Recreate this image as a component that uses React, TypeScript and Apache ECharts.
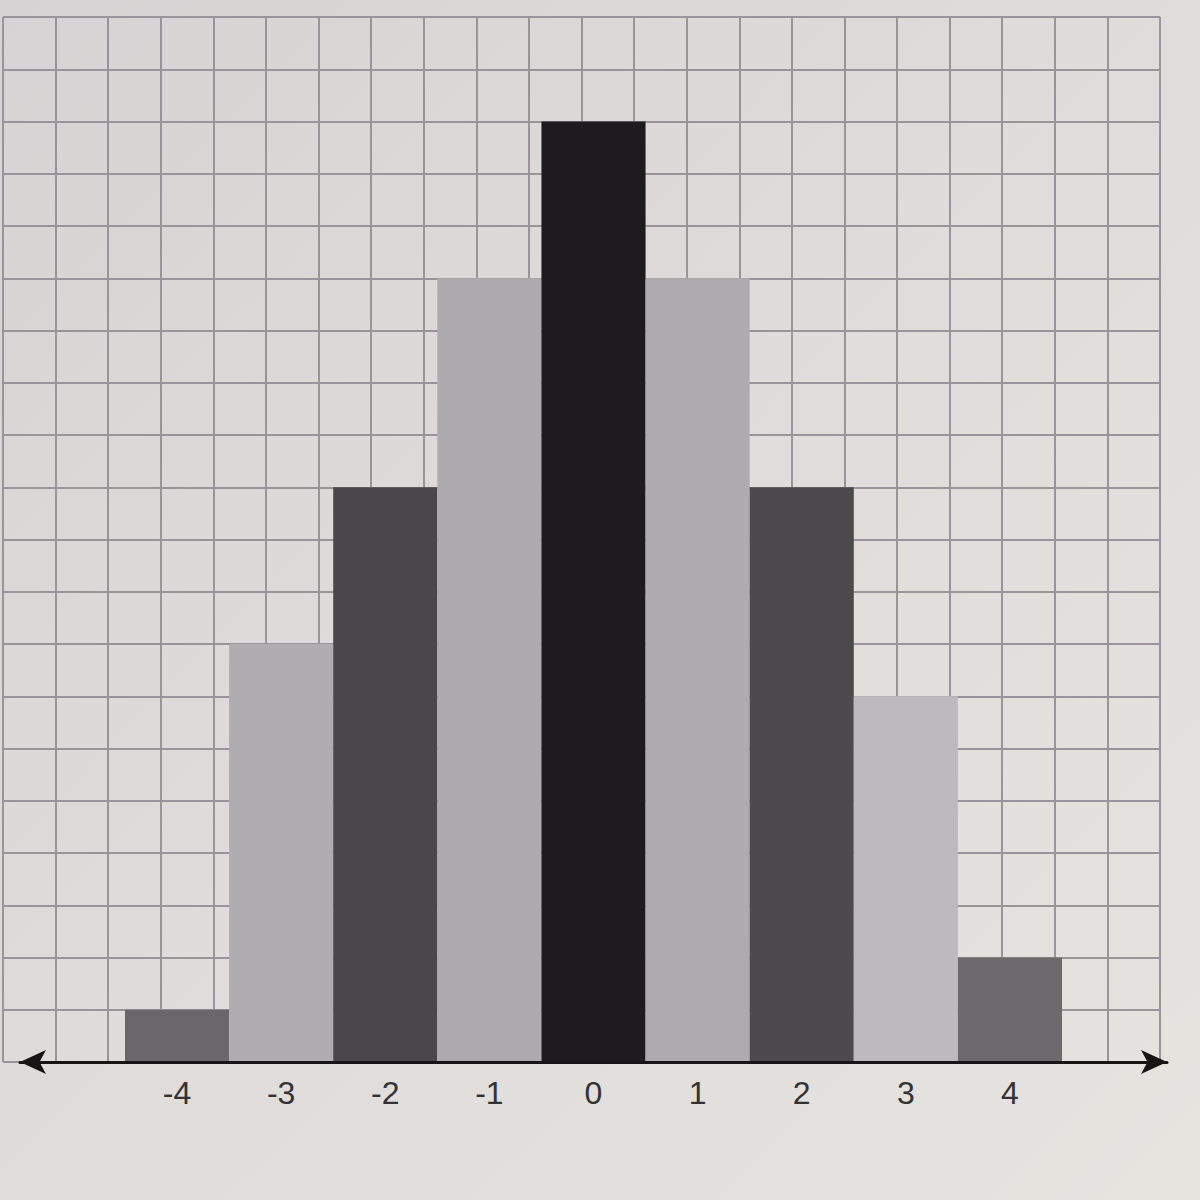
import React, { useEffect, useRef } from "react";
import * as echarts from "echarts";

// Histogram values: frequency at each integer on the number line
const categories = ["-4", "-3", "-2", "-1", "0", "1", "2", "3", "4"];
const frequencies = [1, 8, 11, 15, 18, 15, 11, 7, 2];
const barShades = [
  "#6a676a",
  "#b0adb0",
  "#4a474a",
  "#acaaac",
  "#1d1b1d",
  "#adabad",
  "#4d4a4d",
  "#bcbabd",
  "#6d6a6d",
];

// Graph-paper extent, in squares
const paperCols = 22;
const paperRows = 20;

export default function App() {
  const ref = useRef<HTMLDivElement>(null);

  useEffect(() => {
    if (!ref.current) return;
    const chart = echarts.init(ref.current, null, { renderer: "svg" });

    const gridLine = { show: true, lineStyle: { color: "#9a949a", width: 2 } };

    chart.setOption({
      animation: false,
      backgroundColor: "transparent",
      grid: [
        // graph paper
        { left: 3, right: 40, top: 17, bottom: 138 },
        // bars
        { left: 125, right: 138, top: 17, bottom: 138 },
        // number line with arrows
        { left: 20, right: 33, top: 17, bottom: 138 },
      ],
      xAxis: [
        {
          gridIndex: 0,
          type: "value",
          min: 0,
          max: paperCols,
          interval: 1,
          axisLine: { show: false },
          axisTick: { show: false },
          axisLabel: { show: false },
          splitLine: gridLine,
        },
        {
          gridIndex: 1,
          type: "category",
          data: categories,
          boundaryGap: true,
          axisLine: { show: false },
          axisTick: { show: false },
          splitLine: { show: false },
          axisLabel: {
            show: true,
            margin: 15,
            fontSize: 32,
            fontFamily: "Liberation Sans, Arial, sans-serif",
            color: "#333333",
          },
        },
        {
          gridIndex: 2,
          type: "value",
          min: 0,
          max: 1,
          z: 10,
          axisLine: {
            show: true,
            symbol: ["arrow", "arrow"],
            symbolSize: [18, 26],
            lineStyle: { color: "#151515", width: 3 },
          },
          axisTick: { show: false },
          axisLabel: { show: false },
          splitLine: { show: false },
        },
      ],
      yAxis: [
        {
          gridIndex: 0,
          type: "value",
          min: 0,
          max: paperRows,
          interval: 1,
          axisLine: { show: false },
          axisTick: { show: false },
          axisLabel: { show: false },
          splitLine: gridLine,
        },
        {
          gridIndex: 1,
          type: "value",
          min: 0,
          max: paperRows,
          interval: 1,
          show: false,
        },
        {
          gridIndex: 2,
          type: "value",
          min: 0,
          max: paperRows,
          show: false,
        },
      ],
      series: [
        {
          type: "bar",
          xAxisIndex: 1,
          yAxisIndex: 1,
          barWidth: "100%",
          barCategoryGap: 0,
          data: frequencies.map((v, i) => ({
            value: v,
            itemStyle: { color: barShades[i] },
          })),
        },
      ],
    });

    return () => chart.dispose();
  }, []);

  return (
    <div
      style={{
        position: "fixed",
        left: 0,
        top: 0,
        width: 1200,
        height: 1200,
        background:
          "linear-gradient(135deg, #d7d3d4 0%, #dedbda 45%, #e6e4df 100%)",
      }}
    >
      <div ref={ref} style={{ width: 1200, height: 1200 }} />
    </div>
  );
}
